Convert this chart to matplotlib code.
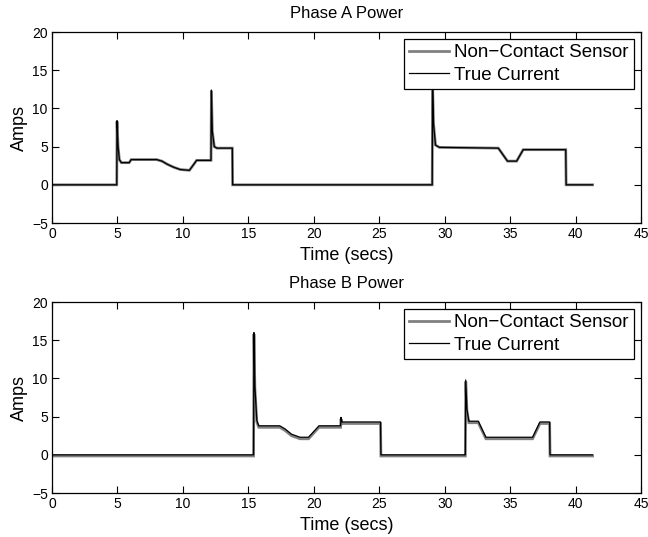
import matplotlib
matplotlib.use("Agg")
import matplotlib.pyplot as plt

plt.rcParams['font.family'] = ['Liberation Sans', 'DejaVu Sans']

# ---------------- data (breakpoints) ----------------
phase_a_time = [0, 4.95, 4.97, 5.05, 5.15, 5.3, 5.9, 6.05, 8.0, 8.4, 8.8, 9.3, 9.8,
                10.5, 10.8, 11.05, 12.15, 12.18, 12.25, 12.4, 12.6, 13.78, 13.8,
                29.05, 29.08, 29.15, 29.3, 29.6, 34.1, 34.8, 35.5, 36.0,
                39.25, 39.28, 41.3]
phase_a_true = [0, 0, 8.4, 5.0, 3.3, 2.9, 2.9, 3.3, 3.3, 3.1, 2.7, 2.3, 2.0,
                1.9, 2.6, 3.2, 3.2, 12.4, 7.0, 5.0, 4.8, 4.8, 0,
                0, 13.0, 8.0, 5.2, 4.9, 4.8, 3.1, 3.1, 4.6,
                4.6, 0, 0]
phase_a_sensor = [0, 0, 8.3, 5.0, 3.3, 2.9, 2.9, 3.3, 3.3, 3.1, 2.7, 2.3, 2.0,
                  1.9, 2.6, 3.2, 3.2, 12.3, 7.0, 5.0, 4.8, 4.8, 0,
                  0, 12.9, 8.0, 5.2, 4.9, 4.8, 3.1, 3.1, 4.6,
                  4.6, 0, 0]

phase_b_time = [0, 15.40, 15.43, 15.5, 15.65, 15.8, 17.4, 17.8, 18.3, 18.95, 19.6,
                20.4, 22.05, 22.08, 22.15, 25.1, 25.13, 31.58, 31.61, 31.7,
                31.85, 32.57, 33.15, 36.72, 37.28, 38.02, 38.05, 41.3]
phase_b_true = [0, 0, 16.0, 9.0, 4.5, 3.8, 3.8, 3.4, 2.7, 2.3, 2.3,
                3.8, 3.8, 4.9, 4.3, 4.3, 0, 0, 9.8, 6.0,
                4.4, 4.4, 2.3, 2.3, 4.3, 4.3, 0, 0]
phase_b_sensor = [-0.15, -0.15, 15.8, 8.8, 4.3, 3.6, 3.6, 3.2, 2.5, 2.1, 2.1,
                  3.6, 3.6, 4.7, 4.1, 4.1, -0.15, -0.15, 9.6, 5.8,
                  4.2, 4.2, 2.1, 2.1, 4.1, 4.1, -0.15, -0.15]

x_ticks = [0, 5, 10, 15, 20, 25, 30, 35, 40, 45]
y_ticks = [-5, 0, 5, 10, 15, 20]

# ---------------- figure ----------------
fig = plt.figure(figsize=(6.48, 5.37), dpi=100)
ax1 = fig.add_axes([0.0802, 0.5847, 0.9090, 0.3557])
ax2 = fig.add_axes([0.0802, 0.0819, 0.9090, 0.3557])

panels = [
    (ax1, "Phase A Power", phase_a_time, phase_a_sensor, phase_a_true),
    (ax2, "Phase B Power", phase_b_time, phase_b_sensor, phase_b_true),
]

for ax, title, t, sensor, true in panels:
    ax.plot(t, sensor, color='#808080', lw=2.0, label='Non\u2212Contact Sensor',
            solid_joinstyle='miter')
    ax.plot(t, true, color='black', lw=0.9, label='True Current')
    ax.set_xlim(0, 45)
    ax.set_ylim(-5, 20)
    ax.set_xticks(x_ticks)
    ax.set_yticks(y_ticks)
    ax.set_yticklabels([str(v).replace('-', '\u2212') for v in y_ticks])
    ax.tick_params(direction='in', top=True, right=True, length=5, width=0.8,
                   labelsize=10, pad=3)
    for s in ax.spines.values():
        s.set_linewidth(0.9)
    ax.set_title(title, fontsize=12, pad=10)
    ax.set_xlabel("Time (secs)", fontsize=13, labelpad=4)
    ax.set_ylabel("Amps", fontsize=13, labelpad=3)
    leg = ax.legend(loc='upper right', fontsize=13.5, frameon=True, fancybox=False,
                    framealpha=1, edgecolor='black', handlelength=2.1,
                    handletextpad=0.3, borderpad=0.3, labelspacing=0.28,
                    borderaxespad=0.35)
    leg.get_frame().set_linewidth(0.9)

fig.savefig("out.png", dpi=100)
